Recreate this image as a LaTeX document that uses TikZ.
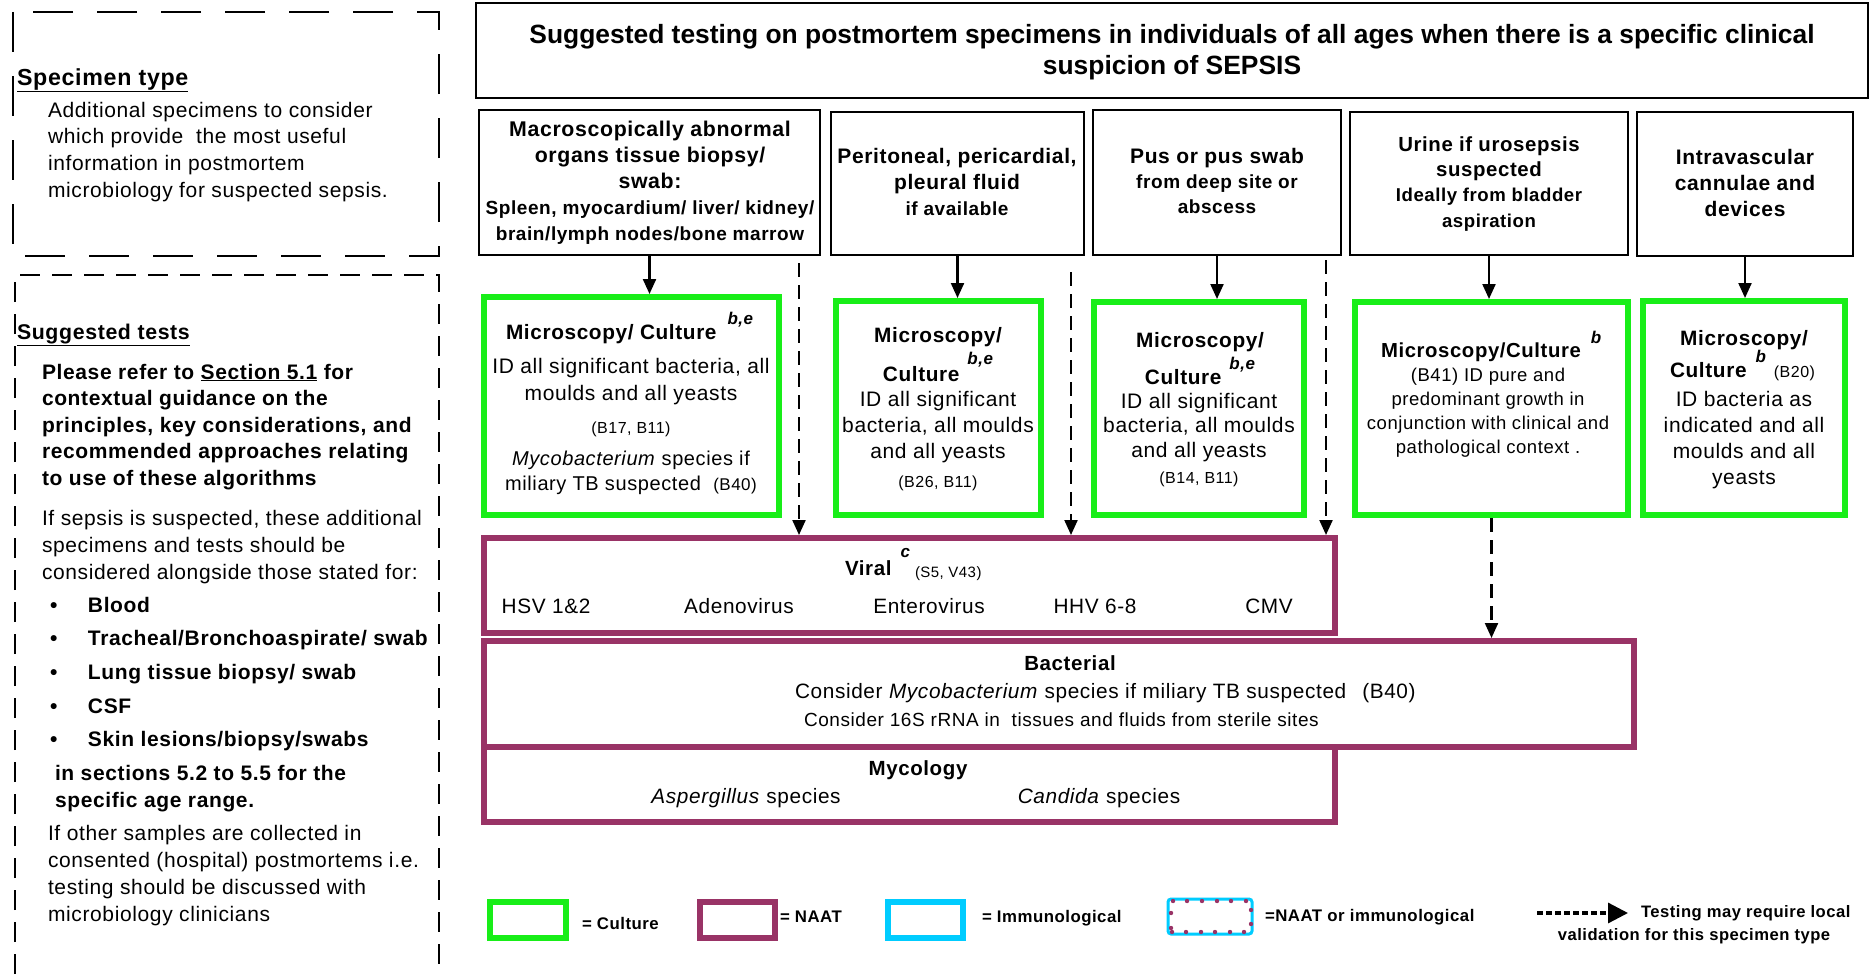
\documentclass[tikz,border=0pt]{standalone}
\usepackage{fontspec}
\setmainfont[LetterSpace=3]{Liberation Sans}
\newfontfamily\titlefont{Liberation Sans}
\usetikzlibrary{arrows.meta,fit}
\definecolor{culturegreen}{RGB}{24,238,24}
\definecolor{naatpurple}{RGB}{153,51,102}
\definecolor{immunocyan}{RGB}{0,204,255}
\newcommand\fsz[2]{\fontsize{#1}{#2}\selectfont}
\newcommand\stack[2]{\begin{tabular}[t]{@{}#1@{}}#2\end{tabular}}
\newcommand\supl[2]{\raisebox{#1}{\fsz{17}{17}\bfseries\itshape #2}}

\begin{document}
\begin{tikzpicture}[x=1pt,y=-1pt,
  lbl/.style={anchor=base,inner sep=0pt,outer sep=0pt},
  lbll/.style={anchor=base west,inner sep=0pt,outer sep=0pt},
  specbox/.style={draw=black,line width=2.6pt,inner sep=0pt},
  culturebox/.style={draw=culturegreen,line width=6pt,inner sep=0pt},
  naatbox/.style={draw=naatpurple,line width=6pt,inner sep=0pt},
  immunobox/.style={draw=immunocyan,line width=6pt,inner sep=0pt},
  arr/.style={line width=2.2pt,-{Triangle[length=15pt,width=13pt]}},
  darr/.style={arr,dash pattern=on 14pt off 8pt},
  longdash/.style={line width=2.8pt,dash pattern=on 40pt off 24pt},
  shortdash/.style={line width=2.8pt,dash pattern=on 20pt off 12pt},
]
\useasboundingbox (0,0) rectangle (1870,974);

% ---------- left panel ----------
\draw[longdash] (13,12) rectangle (439,256);
\draw[shortdash] (15,974) -- (15,275) -- (439,275) -- (439,974);

\node[lbll] (sthead) at (17,85) {\fsz{23.2}{26}\bfseries\underline{Specimen type}};
\node[lbll] (stbody) at (48,117) {\fsz{21}{26.7}\stack{l}{Additional specimens to consider\\which provide\ \ the most useful\\information in postmortem\\microbiology for suspected sepsis.}};

\node[lbll] (sghead) at (17,339) {\fsz{21.3}{26}\bfseries\underline{Suggested tests}};
\node[lbll] (sgrefer) at (42,379) {\fsz{21}{26.5}\bfseries\stack{l}{Please refer to \underline{Section 5.1} for\\contextual guidance on the\\principles, key considerations, and\\recommended approaches relating\\to use of these algorithms}};
\node[lbll] (sgsepsis) at (42,525) {\fsz{21}{27}\stack{l}{If sepsis is suspected, these additional\\specimens and tests should be\\considered alongside those stated for:}};
\node[lbll] (sglist) at (50,612) {\fsz{21}{33.7}\bfseries\stack{l}{\makebox[38pt][l]{\textbullet}Blood\\\makebox[38pt][l]{\textbullet}Tracheal/Bronchoaspirate/ swab\\\makebox[38pt][l]{\textbullet}Lung tissue biopsy/ swab\\\makebox[38pt][l]{\textbullet}CSF\\\makebox[38pt][l]{\textbullet}Skin lesions/biopsy/swabs}};
\node[lbll] (sgsect) at (55,780) {\fsz{21}{27}\bfseries\stack{l}{in sections 5.2 to 5.5 for the\\specific age range.}};
\node[lbll] (sgother) at (48,840) {\fsz{21}{27}\stack{l}{If other samples are collected in\\consented (hospital) postmortems i.e.\\testing should be discussed with\\microbiology clinicians}};

% ---------- title ----------
\node[specbox,fit={(476,3) (1868,98)}] (title) {};
\node[lbl] (titletxt) at (1172,44) {\titlefont\fsz{26.4}{31}\bfseries\stack{c}{Suggested testing on postmortem specimens in individuals of all ages when there is a specific clinical\\suspicion of SEPSIS}};

% ---------- specimen boxes ----------
\node[specbox,fit={(479,110) (820,255)}] (b1) {};
\node[specbox,fit={(831,112) (1084,255)}] (b2) {};
\node[specbox,fit={(1093,110) (1341,255)}] (b3) {};
\node[specbox,fit={(1350,112) (1628,255)}] (b4) {};
\node[specbox,fit={(1637,112) (1853,256)}] (b5) {};

\node[lbl] (b1t) at (650,136) {\fsz{21.3}{26.2}\bfseries\stack{c}{Macroscopically abnormal\\organs tissue biopsy/\\swab:\\\fsz{19}{26.2}Spleen, myocardium/ liver/ kidney/\\\fsz{19}{26.2}brain/lymph nodes/bone marrow}};
\node[lbl] (b2t) at (957,163) {\fsz{21}{26}\bfseries\stack{c}{Peritoneal, pericardial,\\pleural fluid\\\fsz{19}{26}if available}};
\node[lbl] (b3t) at (1217,163) {\fsz{21}{25}\bfseries\stack{c}{Pus or pus swab\\\fsz{19}{25}from deep site or\\\fsz{19}{25}abscess}};
\node[lbl] (b4t) at (1489,151) {\fsz{20.4}{25.4}\bfseries\stack{c}{Urine if urosepsis\\suspected\\\fsz{18.6}{25}Ideally from bladder\\\fsz{18.6}{25}aspiration}};
\node[lbl] (b5t) at (1745,164) {\fsz{21}{26.3}\bfseries\stack{c}{Intravascular\\cannulae and\\devices}};

% ---------- culture boxes ----------
\node[culturebox,fit={(484,297) (779,515)}] (g1) {};
\node[culturebox,fit={(836,301) (1041,515)}] (g2) {};
\node[culturebox,fit={(1094,302) (1304,515)}] (g3) {};
\node[culturebox,fit={(1355,302) (1628,515)}] (g4) {};
\node[culturebox,fit={(1643,301) (1845,515)}] (g5) {};

\node[lbll] (g1h) at (506,339) {\fsz{20.8}{25}\bfseries Microscopy/ Culture\hspace{11pt}\supl{15pt}{b,e}};
\node[lbl] (g1b) at (631,373) {\fsz{21}{27.5}\stack{c}{ID all significant bacteria, all\\moulds and all yeasts}};
\node[lbl] (g1r) at (631,433) {\fsz{16}{16}(B17, B11)};
\node[lbl] (g1m) at (631,465) {\fsz{20}{25.5}\stack{c}{\textit{Mycobacterium} species if\\miliary TB suspected\ \ {\fsz{17}{17}(B40)}}};

\node[lbl] (g2h) at (938,342) {\fsz{20.8}{35}\bfseries\stack{c}{Microscopy/\\Culture\hspace{8pt}\supl{17pt}{b,e}}};
\node[lbl] (g2b) at (938,406) {\fsz{21}{26}\stack{c}{ID all significant\\bacteria, all moulds\\and all yeasts}};
\node[lbl] (g2r) at (938,487) {\fsz{16}{16}(B26, B11)};

\node[lbl] (g3h) at (1200,347) {\fsz{20.8}{33}\bfseries\stack{c}{Microscopy/\\Culture\hspace{8pt}\supl{15pt}{b,e}}};
\node[lbl] (g3b) at (1199,408) {\fsz{21}{24.5}\stack{c}{ID all significant\\bacteria, all moulds\\and all yeasts}};
\node[lbl] (g3r) at (1199,483) {\fsz{16}{16}(B14, B11)};

\node[lbll] (g4h) at (1381,357) {\fsz{20.3}{25}\bfseries Microscopy/Culture\hspace{10pt}\supl{14pt}{b}};
\node[lbl] (g4b) at (1488,381) {\fsz{18.5}{24}\stack{c}{(B41) ID pure and\\predominant growth in\\conjunction with clinical and\\pathological context .}};

\node[lbl] (g5h) at (1744,345) {\fsz{20.8}{25}\bfseries Microscopy/};
\node[lbll] (g5c) at (1670,377) {\fsz{20.8}{25}\bfseries Culture\hspace{9pt}\supl{15pt}{b}\hspace{8pt}{\mdseries\fsz{16}{16}(B20)}};
\node[lbl] (g5b) at (1744,406) {\fsz{21}{26.3}\stack{c}{ID bacteria as\\indicated and all\\moulds and all\\yeasts}};

% ---------- NAAT boxes ----------
\node[naatbox,fit={(484,538) (1335,633)}] (vir) {};
\node[naatbox,fit={(484,641) (1634,747)}] (bac) {};
\node[naatbox,fit={(484,747) (1335,822)}] (myc) {};

\node[lbll] (virh) at (845,575) {\fsz{20.5}{20}\bfseries Viral\hspace{9pt}\supl{18pt}{c}\hspace{5pt}{\mdseries\fsz{15}{15}\raisebox{-2pt}{(S5, V43)}}};
\node[lbl] (v1) at (546,613) {\fsz{20.8}{20}HSV 1\&2};
\node[lbl] (v2) at (739,613) {\fsz{20.8}{20}Adenovirus};
\node[lbl] (v3) at (929,613) {\fsz{20.8}{20}Enterovirus};
\node[lbl] (v4) at (1095,613) {\fsz{20.8}{20}HHV 6-8};
\node[lbl] (v5) at (1269,613) {\fsz{20.8}{20}CMV};

\node[lbl] (bach) at (1070,670) {\fsz{20.5}{20}\bfseries Bacterial};
\node[lbll] (bac1) at (795,698) {\fsz{20.8}{20}Consider \textit{Mycobacterium} species if miliary TB suspected\hspace{16pt}(B40)};
\node[lbll] (bac2) at (804,726) {\fsz{19}{20}Consider 16S rRNA in\ \ tissues and fluids from sterile sites};

\node[lbl] (mych) at (918,775) {\fsz{20.5}{20}\bfseries Mycology};
\node[lbl] (myc1) at (746,803) {\fsz{20.8}{20}\textit{Aspergillus} species};
\node[lbl] (myc2) at (1099,803) {\fsz{20.8}{20}\textit{Candida} species};

% ---------- connectors ----------
\draw[arr] (b1.south) -- (b1.south |- g1.north);
\draw[arr] (b2.south) -- (b2.south |- g2.north);
\draw[arr] (b3.south) -- (b3.south |- g3.north);
\draw[arr] (b4.south) -- (b4.south |- g4.north);
\draw[arr] (b5.south) -- (b5.south |- g5.north);

\coordinate (d1top) at (799,263);
\coordinate (d2top) at (1071,272);
\coordinate (d3top) at (1326,260);
\draw[darr] (d1top) -- (d1top |- vir.north);
\draw[darr] (d2top) -- (d2top |- vir.north);
\draw[darr] (d3top) -- (d3top |- vir.north);
\draw[darr] (g4.south) -- (g4.south |- bac.north);

% ---------- key ----------
\node[culturebox,fit={(490,902) (566,938)}] (kcult) {};
\node[lbll] (kcultt) at (582,929) {\fsz{16.8}{20}\bfseries = Culture};
\node[naatbox,fit={(700,902) (775,938)}] (knaat) {};
\node[lbll] (knaatt) at (780,922) {\fsz{16.8}{20}\bfseries = NAAT};
\node[immunobox,fit={(888,902) (963,938)}] (kimm) {};
\node[lbll] (kimmt) at (982,922) {\fsz{16.8}{20}\bfseries = Immunological};
\node[draw=immunocyan,line width=3pt,rounded corners=3pt,inner sep=0pt,fit={(1168,899) (1252,934)}] (kmix) {};
\foreach \px in {1173,1187,1202,1217,1231,1246} \fill[naatpurple] (\px,901) circle (2.2pt);
\foreach \px in {1172,1186,1201,1215,1230,1244} \fill[naatpurple] (\px,932) circle (2.2pt);
\foreach \py in {913,928} \fill[naatpurple] (1171,\py) circle (2.2pt);
\foreach \py in {910,924} \fill[naatpurple] (1251,\py) circle (2.2pt);
\node[lbll] (kmixt) at (1265,921) {\fsz{16.8}{20}\bfseries =NAAT or immunological};

\coordinate (kas) at (1537,913);
\coordinate (kae) at (1628,913);
\draw[line width=3.2pt,dash pattern=on 6pt off 3pt,-{Triangle[length=20pt,width=20pt]}] (kas) -- (kae);
\node[lbll] (kdt1) at (1641,917) {\fsz{16.6}{20}\bfseries Testing may require local};
\node[lbl] (kdt2) at (1694,940) {\fsz{16.6}{20}\bfseries validation for this specimen type};
\end{tikzpicture}
\end{document}
